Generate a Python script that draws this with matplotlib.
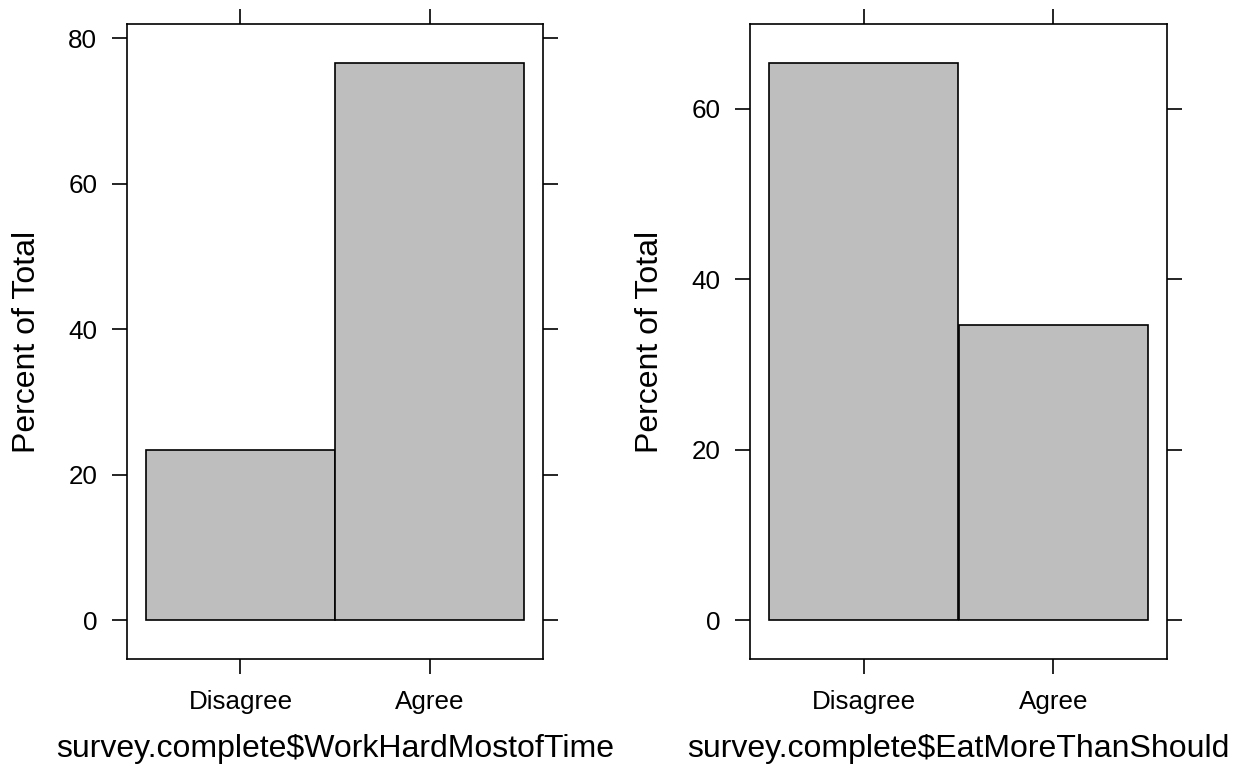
import matplotlib
matplotlib.use("Agg")
from matplotlib import pyplot as plt

plt.rcParams['font.family'] = ['Liberation Sans', 'DejaVu Sans']

levels = ['Disagree', 'Agree']
work_hard_pct = [23.4, 76.6]
eat_more_pct = [65.4, 34.6]
xlabels = ['survey.complete$WorkHardMostofTime', 'survey.complete$EatMoreThanShould']
yticks_left = [0, 20, 40, 60, 80]
yticks_right = [0, 20, 40, 60]

fig = plt.figure(figsize=(12.42, 7.72), dpi=100)
ax1 = fig.add_axes([127 / 1242, 1 - 659 / 772, 416 / 1242, 635 / 772])
ax2 = fig.add_axes([750 / 1242, 1 - 659 / 772, 417 / 1242, 635 / 772])


def lattice_panel(ax, values, yticks, xlabel):
    pos = list(range(1, len(levels) + 1))
    ax.bar(pos, values, width=1.0, color='#bebebe', edgecolor='black', linewidth=1.2)
    top = max(values)
    ax.set_ylim(-0.07 * top, 1.07 * top)
    ax.set_xlim(0.4, 2.6)
    ax.set_xticks(pos)
    ax.set_xticklabels(levels)
    ax.set_yticks(yticks)
    ax.tick_params(direction='out', length=11, width=1.2, labelsize=18.7, pad=10.5,
                   top=True, right=True, labeltop=False, labelright=False)
    ax.tick_params(axis='x', pad=11)
    for sp in ax.spines.values():
        sp.set_linewidth(1.2)
    ax.set_xlabel(xlabel, fontsize=23, labelpad=15)
    ax.set_ylabel('Percent of Total', fontsize=23, labelpad=18.5)


lattice_panel(ax1, work_hard_pct, yticks_left, xlabels[0])
lattice_panel(ax2, eat_more_pct, yticks_right, xlabels[1])

plt.savefig('out.png', dpi=100)
